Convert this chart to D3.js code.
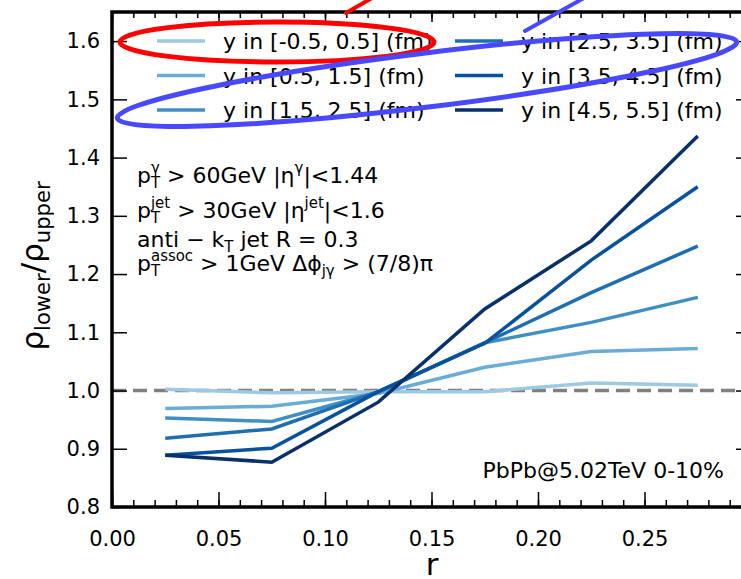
<!DOCTYPE html>
<html>
<head>
<meta charset="utf-8">
<title>rho lower / rho upper vs r</title>
<style>
  body { margin: 0; background: #fff; }
  svg { display: block; font-family: "DejaVu Sans", sans-serif; }
  svg text { white-space: pre; }
  .spine { fill: none; stroke: #000; stroke-width: 3.5; }
  .tk { stroke: #000; stroke-width: 1.5; }
</style>
</head>
<body>
<svg id="chart" width="741" height="579"></svg>
<script src="https://cdn.jsdelivr.net/npm/d3@7/dist/d3.min.js"></script>
<script>

// r bin centres
var rVals = [0.025, 0.075, 0.125, 0.175, 0.225, 0.275];

var seriesLabels = [
  "y in [-0.5, 0.5] (fm)",
  "y in [0.5, 1.5] (fm)",
  "y in [1.5, 2.5] (fm)",
  "y in [2.5, 3.5] (fm)",
  "y in [3.5, 4.5] (fm)",
  "y in [4.5, 5.5] (fm)"
];

var y0 = [1.002, 0.996, 0.998, 0.998, 1.013, 1.009];
var y1 = [0.969, 0.973, 0.995, 1.040, 1.067, 1.072];
var y2 = [0.953, 0.947, 0.997, 1.082, 1.117, 1.160];
var y3 = [0.918, 0.934, 0.998, 1.082, 1.168, 1.248];
var y4 = [0.889, 0.901, 0.998, 1.081, 1.224, 1.350];
var y5 = [0.889, 0.877, 0.980, 1.140, 1.257, 1.437];
var seriesValues = [y0, y1, y2, y3, y4, y5];

var colors = ["#9dc9e2", "#69acd5", "#3f8fc5", "#1f6eb3", "#08519c", "#08306b"];

var xTicks = [0.00, 0.05, 0.10, 0.15, 0.20, 0.25];
var yTicks = [0.8, 0.9, 1.0, 1.1, 1.2, 1.3, 1.4, 1.5, 1.6];

var svg = d3.select("#chart");
var mLeft = 112, mRight = 751, mTop = 12, mBottom = 507;

var x = d3.scaleLinear().domain([0, 0.3]).range([mLeft, mRight]);
var y = d3.scaleLinear().domain([0.8, 1.65]).range([mBottom, mTop]);

// reference line at 1
svg.append("line")
    .attr("x1", mLeft).attr("x2", mRight)
    .attr("y1", y(1.0)).attr("y2", y(1.0))
    .attr("stroke", "#808080")
    .attr("stroke-width", 3.5)
    .attr("stroke-dasharray", "14,7");

var line = d3.line()
    .x(function(d, i) { return x(rVals[i]); })
    .y(function(d) { return y(d); });

svg.append("g").selectAll("path")
    .data(seriesValues)
    .enter().append("path")
    .attr("d", line)
    .attr("fill", "none")
    .attr("stroke", function(d, i) { return colors[i]; })
    .attr("stroke-width", 3.5);

// axes, ticks pointing inward
var minorX = d3.range(0, 31).map(function(k) { return k / 100; });

function plain(g) {
  g.select(".domain").remove();
  g.selectAll("line").attr("class", "tk");
}
function labelled(g) {
  plain(g);
  g.selectAll("text").attr("font-size", 21).attr("font-family", "DejaVu Sans").attr("fill", "#000");
}

svg.append("g").attr("transform", "translate(0," + mBottom + ")")
    .call(d3.axisBottom(x).tickValues(minorX).tickSize(-7).tickFormat(""))
    .call(plain);
svg.append("g").attr("transform", "translate(0," + mBottom + ")")
    .call(d3.axisBottom(x).tickValues(xTicks).tickSize(-15).tickPadding(24)
          .tickFormat(d3.format(".2f")))
    .call(labelled);

svg.append("g").attr("transform", "translate(0," + mTop + ")")
    .call(d3.axisTop(x).tickValues(minorX).tickSize(-6).tickFormat(""))
    .call(plain);
svg.append("g").attr("transform", "translate(0," + mTop + ")")
    .call(d3.axisTop(x).tickValues(xTicks).tickSize(-10).tickFormat(""))
    .call(plain);

svg.append("g").attr("transform", "translate(" + mLeft + ",0)")
    .call(d3.axisLeft(y).tickValues(yTicks).tickSize(-15).tickPadding(12)
          .tickFormat(d3.format(".1f")))
    .call(labelled);

svg.append("g").attr("transform", "translate(" + mRight + ",0)")
    .call(d3.axisRight(y).tickValues(yTicks).tickSize(-15).tickFormat(""))
    .call(plain);

svg.append("rect").attr("class", "spine")
    .attr("x", mLeft).attr("y", mTop)
    .attr("width", mRight - mLeft).attr("height", mBottom - mTop);

// simple mathtext: parts are {t}, {sup, sub} stacked, {sub}, {sup}
function rich(g, x0, base, parts, size) {
  var cx = x0, small = size * 0.68;
  parts.forEach(function(p) {
    if (p.t !== undefined) {
      var t = g.append("text").attr("x", cx).attr("y", base)
          .attr("font-size", size).text(p.t);
      cx += t.node().getComputedTextLength();
    } else {
      var w = 0;
      if (p.sup !== undefined) {
        var s = g.append("text").attr("x", cx).attr("y", base - size * 0.47)
            .attr("font-size", small).text(p.sup);
        w = Math.max(w, s.node().getComputedTextLength());
      }
      if (p.sub !== undefined) {
        var b = g.append("text").attr("x", cx).attr("y", base + size * 0.24)
            .attr("font-size", small).text(p.sub);
        w = Math.max(w, b.node().getComputedTextLength());
      }
      cx += w;
    }
  });
  return cx - x0;
}

var notes = svg.append("g").attr("fill", "#000");
var noteSize = 22;
rich(notes, 137, 183, [{t: "p"}, {sup: "γ", sub: "T"}, {t: " > 60GeV |η"}, {sup: "γ"}, {t: "|<1.44"}], noteSize);
rich(notes, 137, 218, [{t: "p"}, {sup: "jet", sub: "T"}, {t: " > 30GeV |η"}, {sup: "jet"}, {t: "|<1.6"}], noteSize);
rich(notes, 137, 247, [{t: "anti − k"}, {sub: "T"}, {t: " jet R = 0.3"}], noteSize);
rich(notes, 137, 271, [{t: "p"}, {sup: "assoc", sub: "T"}, {t: " > 1GeV Δϕ"}, {sub: "jγ"}, {t: " > (7/8)π"}], noteSize);

svg.append("text")
    .attr("x", 724).attr("y", 478)
    .attr("text-anchor", "end")
    .attr("font-size", 22)
    .text("PbPb@5.02TeV 0-10%");

// legend, two columns of three
var leg = svg.append("g").selectAll("g")
    .data(seriesLabels)
    .enter().append("g")
    .attr("transform", function(d, i) {
      return "translate(" + (i < 3 ? 157 : 455) + "," + [41, 75.5, 110][i % 3] + ")";
    });
leg.append("line")
    .attr("x1", 0).attr("x2", 48)
    .attr("stroke", function(d, i) { return colors[i]; })
    .attr("stroke-width", 3.5);
leg.append("text")
    .attr("x", 66).attr("dy", "0.38em")
    .attr("font-size", 22)
    .text(function(d) { return d; });

// axis labels
svg.append("text")
    .attr("x", 432).attr("y", 575)
    .attr("text-anchor", "middle")
    .attr("font-size", 31)
    .text("r");

var yl = svg.append("g");
var ylInner = yl.append("g");
var ylw = rich(ylInner, 0, 0, [{t: "ρ"}, {sub: "lower"}, {t: "/ρ"}, {sub: "upper"}], 31);
ylInner.attr("transform", "translate(" + (-ylw / 2) + ",0)");
yl.attr("transform", "translate(43,266) rotate(-90)");

// hand-drawn highlight marks
var marks = svg.append("g").attr("fill", "none").attr("stroke-linecap", "round");
marks.append("ellipse")
    .attr("cx", 277).attr("cy", 42).attr("rx", 157).attr("ry", 20)
    .attr("stroke", "#f00").attr("stroke-width", 5);
marks.append("line")
    .attr("x1", 346).attr("y1", 13).attr("x2", 372).attr("y2", -2)
    .attr("stroke", "#f00").attr("stroke-width", 4);
marks.append("ellipse")
    .attr("transform", "translate(427,80) rotate(-7)")
    .attr("rx", 312).attr("ry", 27)
    .attr("stroke", "#4848ff").attr("stroke-width", 5);
marks.append("line")
    .attr("x1", 525).attr("y1", 31).attr("x2", 584).attr("y2", -2)
    .attr("stroke", "#4848ff").attr("stroke-width", 4);
</script>
</body>
</html>
